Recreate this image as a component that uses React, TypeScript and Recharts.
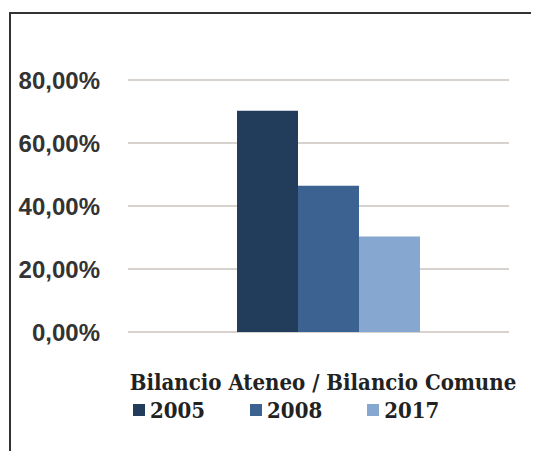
import { BarChart, Bar, XAxis, YAxis, CartesianGrid, Legend } from 'recharts';

const categories = ['Bilancio Ateneo / Bilancio Comune'];
const years = ['2005', '2008', '2017'];
const values2005 = [70.2];
const values2008 = [46.4];
const values2017 = [30.3];
const yTicks = [0, 20, 40, 60, 80];
const colors = ['#223c5c', '#3b6291', '#86a8d0'];

const chartData = categories.map((name, i) => ({
  name,
  y2005: values2005[i],
  y2008: values2008[i],
  y2017: values2017[i],
}));

const fmt = (v: number) => `${v.toFixed(2).replace('.', ',')}%`;

const serif = '"DejaVu Serif Condensed", "DejaVu Serif", serif';

function LegendBox() {
  return (
    <div style={{ height: 53, paddingLeft: 125, display: 'flex', alignItems: 'flex-start', fontFamily: serif }}>
      {years.map((y, i) => (
        <div key={y} style={{ display: 'flex', alignItems: 'center', marginRight: 45 }}>
          <span style={{ width: 12, height: 12, background: colors[i], display: 'inline-block', marginRight: 5 }} />
          <span style={{ fontSize: 22, lineHeight: '24px', color: '#222', fontWeight: 'bold' }}>{y}</span>
        </div>
      ))}
    </div>
  );
}

export default function App() {
  return (
    <div style={{ position: 'relative', width: 523, height: 443 }}>
      <style>{'html,body{overflow:hidden}'}</style>
      <div
        style={{
          position: 'absolute',
          left: 1,
          top: 4,
          width: 560,
          height: 439,
          borderLeft: '2px solid #333',
          borderTop: '2px solid #333',
          borderRight: 'none',
          boxSizing: 'border-box',
        }}
      />
      <div style={{ position: 'absolute', left: 0, top: 0 }}>
        <BarChart
          width={523}
          height={443}
          data={chartData}
          margin={{ top: 72, right: 22, left: 0, bottom: 0 }}
          barGap={0}
        >
          <CartesianGrid vertical={false} stroke="#d8d2ce" strokeWidth={2} />
          <XAxis
            dataKey="name"
            height={66}
            axisLine={false}
            tickLine={false}
            tickSize={0}
            padding={{ left: 19, right: 0 }}
            tick={{ fontSize: 22, fontFamily: serif, fontWeight: 'bold', fill: '#222', dx: -5, dy: 40 }}
          />
          <YAxis
            width={120}
            domain={[0, 80]}
            ticks={yTicks}
            axisLine={false}
            tickLine={false}
            tickSize={0}
            tickMargin={28}
            tickFormatter={fmt}
            tick={{ fontSize: 24, fontFamily: '"Liberation Sans", sans-serif', fontWeight: 'bold', fill: '#333' }}
          />
          <Legend verticalAlign="bottom" align="left" content={() => <LegendBox />} />
          <Bar dataKey="y2005" name="2005" fill={colors[0]} barSize={61} isAnimationActive={false} />
          <Bar dataKey="y2008" name="2008" fill={colors[1]} barSize={61} isAnimationActive={false} />
          <Bar dataKey="y2017" name="2017" fill={colors[2]} barSize={61} isAnimationActive={false} />
        </BarChart>
      </div>
    </div>
  );
}
